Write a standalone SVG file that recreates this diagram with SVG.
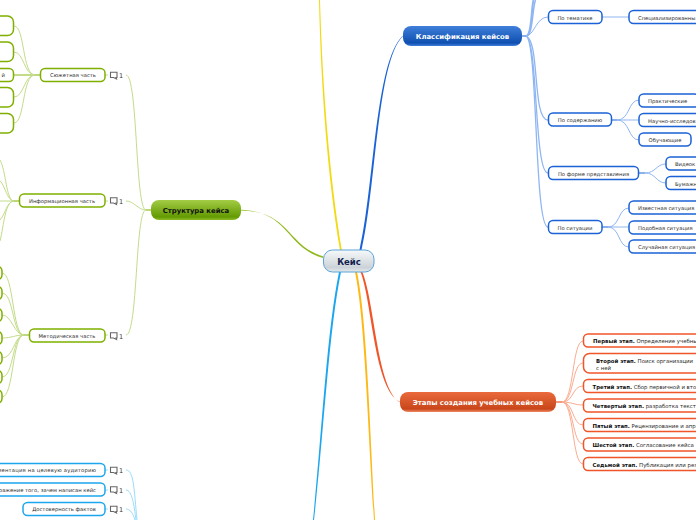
<svg xmlns="http://www.w3.org/2000/svg" width="696" height="520" viewBox="0 0 696 520">
<defs>
<linearGradient id="gR" x1="0" y1="0" x2="0" y2="1"><stop offset="0" stop-color="#f7f9fa"/><stop offset="0.8" stop-color="#ccd3d8"/><stop offset="1" stop-color="#e6eaec"/></linearGradient>
<linearGradient id="gG" x1="0" y1="0" x2="0" y2="1"><stop offset="0" stop-color="#a3cc45"/><stop offset="0.85" stop-color="#639a02"/><stop offset="1" stop-color="#8dbb26"/></linearGradient>
<linearGradient id="gB" x1="0" y1="0" x2="0" y2="1"><stop offset="0" stop-color="#3f7fda"/><stop offset="0.85" stop-color="#0f4fb0"/><stop offset="1" stop-color="#3f7fda"/></linearGradient>
<linearGradient id="gO" x1="0" y1="0" x2="0" y2="1"><stop offset="0" stop-color="#ea6a3e"/><stop offset="0.85" stop-color="#c8461a"/><stop offset="1" stop-color="#f08a66"/></linearGradient>
<symbol id="note" overflow="visible"><path d="M0.500 0.800 H7 V6 H6 L6.500 7.500 L3.500 6 H0.500 Z" fill="#fff" stroke="#666" stroke-width="1.100"/><text x="9" y="6.600" class="n">1</text></symbol>
</defs>
<style>
text{font-family:"DejaVu Sans","Liberation Sans",sans-serif;font-size:5.250px;fill:#2a2a2a}
.n{font-size:6.500px;fill:#333}
.c{text-anchor:middle}
.e{text-anchor:end}
.b{font-weight:bold;fill:#111}
.t{font-weight:bold;font-size:6.900px;text-anchor:middle;fill:#fff}
.o text{font-size:5.400px}
.g rect{fill:#fff;stroke:#7fb000;stroke-width:1.500}
.u rect{fill:#fff;stroke:#1a62d6;stroke-width:1.500}
.o rect{fill:#fff;stroke:#f0562a;stroke-width:1.500}
.s rect{fill:#fff;stroke:#1ba6ee;stroke-width:1.500}
.lg{fill:none;stroke:#c3dc8a;stroke-width:1}
.lu{fill:none;stroke:#8fb6f2;stroke-width:1}
.lo{fill:none;stroke:#fbab90;stroke-width:1}
.ls{fill:none;stroke:#9adcfb;stroke-width:1}
.sg{fill:none;stroke:#7fb000;stroke-width:1.200}
.su{fill:none;stroke:#1a62d6;stroke-width:1.200}
.so{fill:none;stroke:#f0562a;stroke-width:1.200}
</style>
<g id="connectors">
<path d="M319 0 C321 90 328 180 340 250 L341.800 250 C330 180 322.500 90 320 0 Z" fill="#f2da12"/>
<path d="M359.500 250 C374 190 375 60 403 35.700 V36.300 C377 60 376 190 361.500 250 Z" fill="#1a62d6"/>
<path d="M241 209.700 C290 212 285 247 323 258 L323 256.200 C287 246 290 211 241 210.400 Z" fill="#8fb81a"/>
<path d="M339 272 C327 330 322 430 313 520 L314 520 C324 430 329 330 341 272 Z" fill="#1ba6ee"/>
<path d="M355 272 C365 320 368 430 374 520 L375 520 C370 430 367 320 357 272 Z" fill="#fdb813"/>
<path d="M360.500 272 C372 300 374 390 400 401.700 V402.300 C377 390 374.500 300 362.300 272 Z" fill="#f0562a"/>

<g class="lg">
<path d="M146 210 C135 210 138 75 126 75"/>
<path d="M146 210 C138 210 134 201 126 201"/>
<path d="M146 210 C135 210 138 335 126 335"/>
<path d="M105 75 H108 M105 201 H108 M105 335 H108"/>
<path d="M35 75 C22 75 25 26 14 26"/>
<path d="M35 75 C24 75 24 52 14 52"/>
<path d="M35 75 H6" stroke-width="2"/>
<path d="M35 75 C24 75 24 97 14 97"/>
<path d="M35 75 C22 75 25 123 14 123"/>
<path d="M14 201 C6 201 6 170 0 160"/>
<path d="M14 201 C7 201 5 185 0 181"/>
<path d="M14 201 H0"/>
<path d="M14 201 C7 201 5 215 0 220"/>
<path d="M14 201 C5 201 4 225 0 241"/>
<path d="M24 335 C12 335 14 273 2 273"/>
<path d="M24 335 C12 335 14 293 2 293"/>
<path d="M24 335 C14 335 12 315 2 315"/>
<path d="M24 335 C15 335 12 338 2 338"/>
<path d="M24 335 C14 335 14 358 2 358"/>
<path d="M24 335 C12 335 14 377 2 377"/>
<path d="M24 335 C12 335 14 397 2 397"/>
</g>
<g class="lu">
<path d="M526 36 C534 36 536 17 548 17"/>
<path d="M526 36 C532 36 531 10 533.500 0" stroke-width="2"/>
<path d="M526 36 C533 36 532 10 535.500 0" stroke-width="1.500"/>
<path d="M526 36 C540 40 532 120 548 120" stroke-width="1.300"/>
<path d="M526 36 C538 40 534 173 548 173" stroke-width="1.300"/>
<path d="M526 36 C538 40 534 227 548 227" stroke-width="1.300"/>
<path d="M602 17 H629"/>
<path d="M617 120 C630 120 628 100 639 100"/>
<path d="M617 120 H639"/>
<path d="M617 120 C630 120 628 140 639 140"/>
<path d="M645 173 C656 173 656 164 666 164"/>
<path d="M645 173 C656 173 656 183 666 183"/>
<path d="M608 227 C620 227 618 208 629 208"/>
<path d="M608 227 H629"/>
<path d="M608 227 C620 227 618 247 629 247"/>
</g>
<g class="lo">
<path d="M562 402 C574 402 572 341 583 341"/>
<path d="M562 402 C574 402 572 363 583 363"/>
<path d="M562 402 C574 402 572 386 583 386"/>
<path d="M562 402 C572 402 574 405 583 405"/>
<path d="M562 402 C574 402 572 425 583 425"/>
<path d="M562 402 C574 402 572 444 583 444"/>
<path d="M562 402 C574 402 572 464 583 464"/>
</g>
<g class="ls">
<path d="M105 470 H108 M105 490 H108 M105 509 H108"/>
<path d="M126 470 C134 470 134 490 137 520"/>
<path d="M126 490 C132 490 134 505 136 520"/>
<path d="M126 509 C130 509 133 513 135 520"/>
</g>
<path class="sg" d="M35 75 H40 M14 201 H19 M24 335 H29 M146 210 H151"/>
<path class="su" d="M522 36 H526 M611 120 H617 M639 173 H645 M602 227 H608"/>
<path class="so" d="M556 402 H562"/>
</g>

<g id="root"><rect x="323.500" y="250" width="50.500" height="22" rx="9" fill="url(#gR)" stroke="#5ba3d9" stroke-width="1"/><text x="349" y="265" class="b c" style="font-size:8.500px;fill:#10214e">Кейс</text></g>
<g id="structure"><rect x="151" y="200" width="90" height="20" rx="8" fill="url(#gG)"/><text x="196" y="213" class="t" style="fill:#111">Структура кейса</text></g>
<g id="classification"><rect x="403" y="26" width="119" height="20" rx="8" fill="url(#gB)"/><text x="462.500" y="39" class="t">Классификация кейсов</text></g>
<g id="stages"><rect x="400" y="392" width="156" height="20" rx="8" fill="url(#gO)"/><text x="478" y="405" class="t">Этапы создания учебных кейсов</text></g>

<g id="plot" class="g"><rect x="40.500" y="68.500" width="64.500" height="13" rx="4.500"/><text x="73" y="77" class="c">Сюжетная часть</text><use href="#note" x="110" y="71.500"/></g>
<g id="info" class="g"><rect x="19.500" y="194" width="85.500" height="13" rx="4.500"/><text x="62" y="203" class="c">Информационная часть</text><use href="#note" x="110" y="197"/></g>
<g id="method" class="g"><rect x="29.500" y="329" width="75.500" height="13" rx="4.500"/><text x="67" y="338" class="c">Методическая часть</text><use href="#note" x="110" y="332"/></g>

<g id="p1" class="g"><rect x="-20" y="16" width="33.500" height="19.500" rx="6"/></g>
<g id="p2" class="g"><rect x="-20" y="42" width="33.500" height="19.500" rx="6"/></g>
<g id="p3" class="g"><rect x="-20" y="68.500" width="33.500" height="13" rx="4.500"/><text x="5" y="77" class="e">й</text></g>
<g id="p4" class="g"><rect x="-20" y="87.500" width="33.500" height="19.500" rx="6"/></g>
<g id="p5" class="g"><rect x="-20" y="113.500" width="33.500" height="19.500" rx="6"/></g>

<g id="m1" class="g"><rect x="-20" y="266.500" width="22" height="13" rx="4.500"/></g>
<g id="m2" class="g"><rect x="-20" y="286.500" width="22" height="13" rx="4.500"/></g>
<g id="m3" class="g"><rect x="-20" y="308.500" width="22" height="13" rx="4.500"/></g>
<g id="m4" class="g"><rect x="-20" y="331.500" width="22" height="13" rx="4.500"/></g>
<g id="m5" class="g"><rect x="-20" y="351.500" width="22" height="13" rx="4.500"/></g>
<g id="m6" class="g"><rect x="-20" y="370.500" width="22" height="13" rx="4.500"/></g>
<g id="m7" class="g"><rect x="-20" y="390" width="22" height="13" rx="4.500"/></g>

<g id="q1" class="s"><rect x="-20" y="463.500" width="125" height="13" rx="4.500"/><text x="-2" y="472" textLength="98" lengthAdjust="spacing">иентация на целевую аудиторию</text><use href="#note" x="110" y="466.500"/></g>
<g id="q2" class="s"><rect x="-20" y="483" width="125" height="13" rx="4.500"/><text x="96" y="492" class="e">ражение того, зачем написан кейс</text><use href="#note" x="110" y="486"/></g>
<g id="q3" class="s"><rect x="23" y="502.500" width="82" height="13" rx="4.500"/><text x="64" y="511" class="c">Достоверность фактов</text><use href="#note" x="110" y="505.500"/></g>

<g id="c1" class="u"><rect x="548.500" y="10.500" width="53.500" height="13" rx="4.500"/><text x="575" y="20" class="c">По тематике</text></g>
<g id="c1a" class="u"><rect x="629" y="10.500" width="90" height="13" rx="4.500"/><text x="638" y="20">Специализированны</text></g>
<g id="c2" class="u"><rect x="548.500" y="113" width="63" height="13" rx="4.500"/><text x="580" y="122" class="c">По содержанию</text></g>
<g id="c2a" class="u"><rect x="639" y="94" width="60" height="13" rx="4.500"/><text x="648" y="103">Практические</text></g>
<g id="c2b" class="u"><rect x="639" y="113.500" width="90" height="13" rx="4.500"/><text x="648" y="122.500">Научно-исследов</text></g>
<g id="c2c" class="u"><rect x="639" y="133" width="52" height="13" rx="4.500"/><text x="665" y="142" class="c">Обучающие</text></g>
<g id="c3" class="u"><rect x="548.500" y="166.500" width="90" height="13" rx="4.500"/><text x="593.500" y="176" class="c">По форме представления</text></g>
<g id="c3a" class="u"><rect x="666" y="157" width="60" height="13" rx="4.500"/><text x="675" y="166">Видеок</text></g>
<g id="c3b" class="u"><rect x="666" y="176.500" width="60" height="13" rx="4.500"/><text x="675" y="186">Бумажн</text></g>
<g id="c4" class="u"><rect x="548.500" y="220.500" width="53.500" height="13" rx="4.500"/><text x="575" y="230" class="c">По ситуации</text></g>
<g id="c4a" class="u"><rect x="629" y="201" width="90" height="13" rx="4.500"/><text x="638" y="210">Известная ситуация</text></g>
<g id="c4b" class="u"><rect x="629" y="221" width="90" height="13" rx="4.500"/><text x="638" y="230">Подобная ситуация</text></g>
<g id="c4c" class="u"><rect x="629" y="240" width="90" height="13" rx="4.500"/><text x="638" y="249">Случайная ситуация</text></g>

<g id="s1" class="o"><rect x="583.500" y="334" width="140" height="13" rx="4.500"/><text x="593" y="343"><tspan class="b">Первый этап.</tspan> Определение учебны</text></g>
<g id="s2" class="o"><rect x="583.500" y="353.500" width="140" height="19.500" rx="6"/><text x="596" y="363"><tspan class="b">Второй этап.</tspan> Поиск организации</text><text x="596" y="369.500">с ней</text></g>
<g id="s3" class="o"><rect x="583.500" y="379.500" width="140" height="13" rx="4.500"/><text x="592.500" y="389"><tspan class="b">Третий этап.</tspan> Сбор первичной и вто</text></g>
<g id="s4" class="o"><rect x="583.500" y="399" width="140" height="13" rx="4.500"/><text x="592.500" y="408"><tspan class="b">Четвертый этап.</tspan> разработка текст</text></g>
<g id="s5" class="o"><rect x="583.500" y="418.500" width="140" height="13" rx="4.500"/><text x="592.500" y="428"><tspan class="b">Пятый этап.</tspan> Рецензирование и апр</text></g>
<g id="s6" class="o"><rect x="583.500" y="438" width="140" height="13" rx="4.500"/><text x="592.500" y="447"><tspan class="b">Шестой этап.</tspan> Согласование кейса</text></g>
<g id="s7" class="o"><rect x="583.500" y="457.500" width="140" height="13" rx="4.500"/><text x="592.500" y="467"><tspan class="b">Седьмой этап.</tspan> Публикация или рез</text></g>
</svg>
